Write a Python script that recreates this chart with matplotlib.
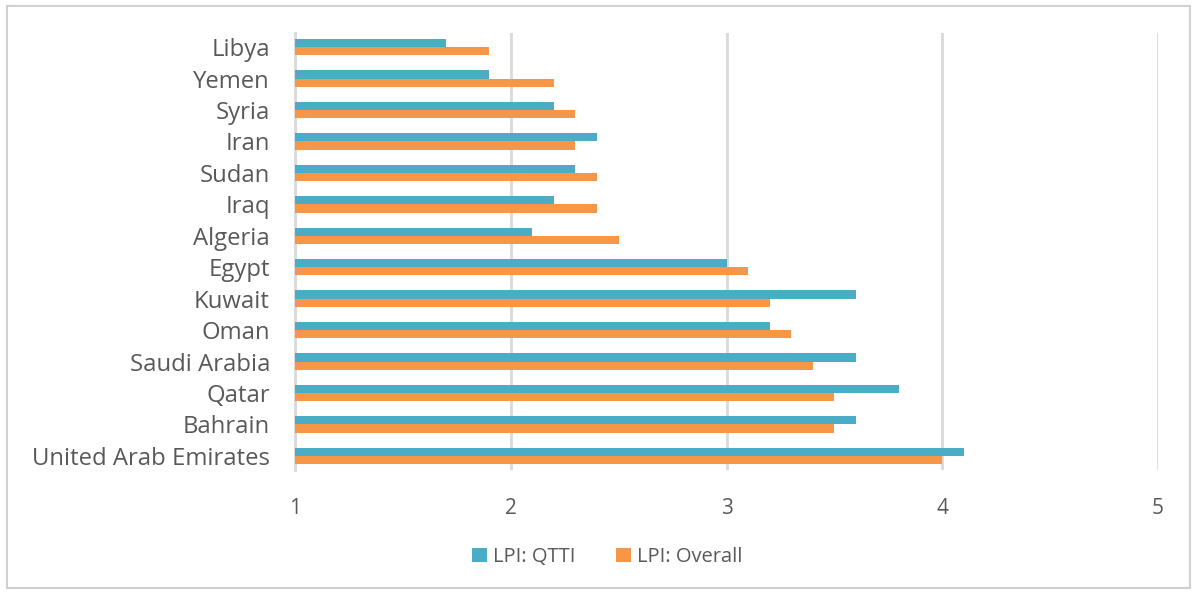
import matplotlib
matplotlib.use("Agg")
import matplotlib.pyplot as plt
import numpy as np
from matplotlib.patches import Rectangle

# Countries listed bottom to top
countries = ["United Arab Emirates", "Bahrain", "Qatar", "Saudi Arabia", "Oman",
             "Kuwait", "Egypt", "Algeria", "Iraq", "Sudan", "Iran", "Syria",
             "Yemen", "Libya"]
lpi_qtti = [4.1, 3.6, 3.8, 3.6, 3.2, 3.6, 3.0, 2.1, 2.2, 2.3, 2.4, 2.2, 1.9, 1.7]
lpi_overall = [4.0, 3.5, 3.5, 3.4, 3.3, 3.2, 3.1, 2.5, 2.4, 2.4, 2.3, 2.3, 2.2, 1.9]
x_ticks = [1, 2, 3, 4, 5]

blue = "#4BACC6"
orange = "#F79646"
text_grey = "#595959"
grid_grey = "#D9D9D9"

plt.rcParams["font.family"] = ["Open Sans", "DejaVu Sans"]

fig = plt.figure(figsize=(11.97, 5.92), dpi=100)
ax = fig.add_axes([295 / 1197, 1 - 470 / 592, (1158 - 295) / 1197, (470 - 33) / 592])

y = np.arange(len(countries))
h = 0.26
base = 1
ax.barh(y + h / 2, np.array(lpi_qtti) - base, height=h, left=base, color=blue,
        label="LPI: QTTI", zorder=3)
ax.barh(y - h / 2, np.array(lpi_overall) - base, height=h, left=base, color=orange,
        label="LPI: Overall", zorder=3)

ax.set_xlim(1, 5)
ax.set_ylim(-0.45, len(countries) - 0.55)
ax.set_xticks(x_ticks)
ax.set_xticklabels([str(t) for t in x_ticks])
ax.set_yticks(y)
ax.set_yticklabels(countries)
ax.tick_params(axis="y", length=0, pad=18, labelsize=17.2, labelcolor=text_grey)
ax.tick_params(axis="x", length=0, pad=20, labelsize=15, labelcolor=text_grey)

ax.grid(axis="x", color=grid_grey, linewidth=2, zorder=0)
for side in ["top", "right", "bottom"]:
    ax.spines[side].set_visible(False)
ax.spines["left"].set_color(grid_grey)
ax.spines["left"].set_linewidth(2)

fig.legend(loc="center", bbox_to_anchor=(607 / 1197, 1 - 557 / 592), ncol=2,
           frameon=False, fontsize=14.5, labelcolor=text_grey, handlelength=0.75,
           handleheight=0.75, handletextpad=0.3, columnspacing=2.0)

# light frame round the whole chart
fig.patches.append(Rectangle((7 / 1197, 4 / 592), 1183 / 1197, 582 / 592,
                             transform=fig.transFigure, fill=False,
                             edgecolor="#D0D0D0", linewidth=1.5))

fig.savefig("out.png", dpi=100)
